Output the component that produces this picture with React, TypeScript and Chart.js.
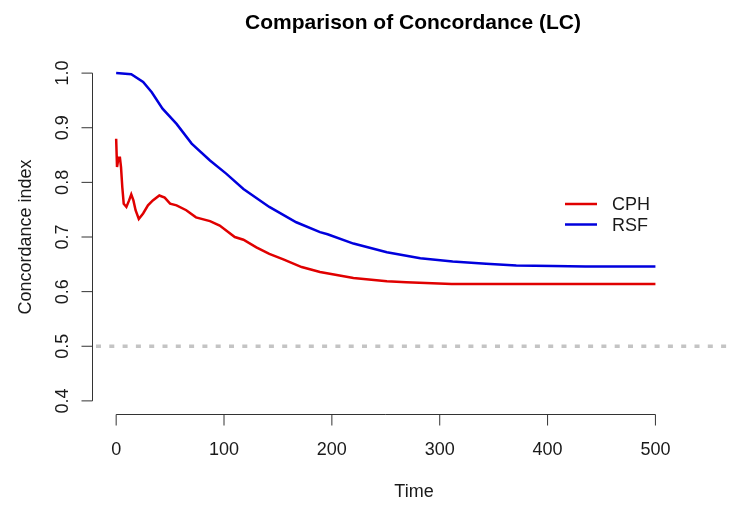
import { useEffect, useRef } from "react";
import { Chart, registerables } from "chart.js";

Chart.register(...registerables);

// Concordance index over time for the two survival models
const rsfTime = [0, 14, 25, 33, 43, 56, 70, 87, 102, 118, 142, 167, 189, 196, 220, 251, 282, 312, 343, 371, 405, 435, 500];
const rsfCindex = [1.0, 0.998, 0.984, 0.965, 0.935, 0.907, 0.871, 0.84, 0.816, 0.788, 0.755, 0.727, 0.709, 0.705, 0.688, 0.672, 0.661, 0.655, 0.651, 0.648, 0.647, 0.646, 0.646];

const cphTime = [0, 0.8, 1.7, 2.2, 3.5, 4.5, 5.7, 7, 9.5, 12, 14, 16, 18, 21, 25, 29.5, 34, 40, 45, 50, 56, 65, 74, 87, 96, 110, 118, 130, 142, 155, 172, 189, 220, 251, 269, 311, 500];
const cphCindex = [0.88, 0.828, 0.828, 0.845, 0.845, 0.828, 0.791, 0.761, 0.755, 0.767, 0.778, 0.767, 0.749, 0.733, 0.743, 0.758, 0.767, 0.776, 0.772, 0.761, 0.758, 0.749, 0.736, 0.729, 0.721, 0.7, 0.695, 0.681, 0.669, 0.659, 0.645, 0.636, 0.625, 0.619, 0.617, 0.614, 0.614];

const xTicks = [0, 100, 200, 300, 400, 500];
const yTicks = [0.4, 0.5, 0.6, 0.7, 0.8, 0.9, 1.0];
const baseline = 0.5;

const seriesNames = ["CPH", "RSF"];
const RED = "#e00000";
const BLUE = "#0000dd";

const FONT = "'Liberation Sans', Arial, sans-serif";

// Base-graphics style axes, labels, legend and reference line
const baseGraphics = {
  id: "baseGraphics",
  beforeDatasetsDraw(chart: any) {
    const { ctx, chartArea, scales } = chart;
    const y = scales.y.getPixelForValue(baseline);
    ctx.save();
    ctx.strokeStyle = "#c4c4c4";
    ctx.lineWidth = 3.5;
    ctx.setLineDash([5, 8.3]);
    ctx.beginPath();
    ctx.moveTo(chartArea.left + 4, y);
    ctx.lineTo(chart.width, y);
    ctx.stroke();
    ctx.restore();
  },
  afterDraw(chart: any) {
    const { ctx, chartArea, scales } = chart;
    const xs = scales.x;
    const ys = scales.y;
    ctx.save();
    ctx.strokeStyle = "#333";
    ctx.lineWidth = 1;
    ctx.fillStyle = "#1a1a1a";

    // x axis
    const axY = Math.round(chartArea.bottom) + 0.5;
    const x0 = xs.getPixelForValue(xTicks[0]);
    const x1 = xs.getPixelForValue(xTicks[xTicks.length - 1]);
    ctx.beginPath();
    ctx.moveTo(x0, axY);
    ctx.lineTo(x1, axY);
    xTicks.forEach((t) => {
      const px = xs.getPixelForValue(t);
      ctx.moveTo(px, axY);
      ctx.lineTo(px, axY + 11);
    });
    ctx.stroke();
    ctx.font = `18px ${FONT}`;
    ctx.textAlign = "center";
    ctx.textBaseline = "alphabetic";
    xTicks.forEach((t) => {
      ctx.fillText(String(t), xs.getPixelForValue(t), 455);
    });

    // y axis
    const axX = Math.round(chartArea.left) + 0.5;
    const y0 = ys.getPixelForValue(yTicks[0]);
    const y1 = ys.getPixelForValue(yTicks[yTicks.length - 1]);
    ctx.beginPath();
    ctx.moveTo(axX, y0);
    ctx.lineTo(axX, y1);
    yTicks.forEach((v) => {
      const py = ys.getPixelForValue(v);
      ctx.moveTo(axX, py);
      ctx.lineTo(axX - 11, py);
    });
    ctx.stroke();
    yTicks.forEach((v) => {
      const py = ys.getPixelForValue(v);
      ctx.save();
      ctx.translate(68, py);
      ctx.rotate(-Math.PI / 2);
      ctx.fillText(v.toFixed(1), 0, 0);
      ctx.restore();
    });

    // axis titles
    ctx.fillText("Time", 414, 497);
    ctx.save();
    ctx.translate(31, (chartArea.top + chartArea.bottom) / 2);
    ctx.rotate(-Math.PI / 2);
    ctx.fillText("Concordance index", 0, 0);
    ctx.restore();

    // main title
    ctx.fillStyle = "#000";
    ctx.font = `bold 21px ${FONT}`;
    ctx.fillText("Comparison of Concordance (LC)", 413, 28.5);

    // legend
    const colors = [RED, BLUE];
    const rows = [204, 224.5];
    ctx.font = `18px ${FONT}`;
    ctx.textAlign = "left";
    ctx.textBaseline = "middle";
    seriesNames.forEach((name, i) => {
      ctx.strokeStyle = colors[i];
      ctx.lineWidth = 2.5;
      ctx.beginPath();
      ctx.moveTo(565, rows[i]);
      ctx.lineTo(597, rows[i]);
      ctx.stroke();
      ctx.fillStyle = "#1a1a1a";
      ctx.fillText(name, 612, rows[i] + 1.5);
    });
    ctx.restore();
  },
};

export default function App() {
  const ref = useRef<HTMLCanvasElement>(null);
  useEffect(() => {
    if (!ref.current) return;
    const chart = new Chart(ref.current, {
      type: "line",
      data: {
        datasets: [
          {
            label: seriesNames[0],
            data: cphTime.map((t, i) => ({ x: t, y: cphCindex[i] })),
            borderColor: RED,
            borderWidth: 2.5,
            pointRadius: 0,
            tension: 0,
            fill: false,
          },
          {
            label: seriesNames[1],
            data: rsfTime.map((t, i) => ({ x: t, y: rsfCindex[i] })),
            borderColor: BLUE,
            borderWidth: 2.5,
            pointRadius: 0,
            tension: 0,
            fill: false,
          },
        ],
      },
      options: {
        responsive: false,
        animation: false,
        events: [],
        layout: { padding: { left: 92, top: 60, right: 52, bottom: 93 } },
        scales: {
          x: { type: "linear", min: -22.4, max: 520, display: false },
          y: { type: "linear", min: 0.376, max: 1.024, display: false },
        },
        plugins: {
          legend: { display: false },
          tooltip: { enabled: false },
          title: { display: false },
        },
      },
      plugins: [baseGraphics],
    });
    return () => chart.destroy();
  }, []);
  return (
    <div style={{ position: "fixed", left: 0, top: 0, width: 729, height: 507, background: "#fff" }}>
      <canvas ref={ref} width={729} height={507} style={{ display: "block" }} />
    </div>
  );
}
